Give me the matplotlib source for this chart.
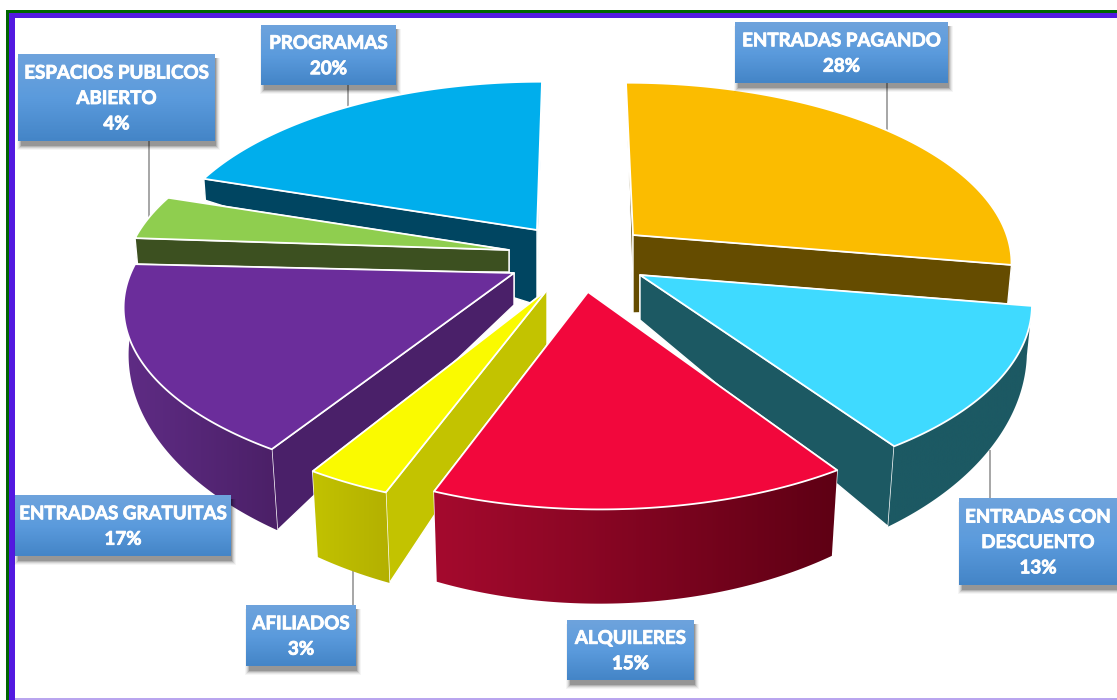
import numpy as np
import matplotlib
matplotlib.use('Agg')
import matplotlib.pyplot as plt
import matplotlib.patheffects as pe
from matplotlib.colors import LinearSegmentedColormap
from matplotlib.patches import Polygon, Rectangle

categories = ['ENTRADAS PAGANDO', 'ENTRADAS CON\nDESCUENTO', 'ALQUILERES', 'AFILIADOS',
              'ENTRADAS GRATUITAS', 'ESPACIOS PUBLICOS\nABIERTO', 'PROGRAMAS']
shares = [28, 13, 15, 3, 17, 4, 20]

# look of each slice, same order as categories
top_colors = ['#FBBC00', '#3FDAFF', '#F2073C', '#FAFA00', '#6B2D9B', '#8FCE4F', '#00AEEC']
wall_colors = ['#654C00', '#1C5963', '#5E0014', '#C3C300', '#4A2069', '#3C5020', '#004561']
far_wall_colors = ['#654C00', '#1C5963', '#5E0014', '#C3C300', '#4A2069', '#3C5020', '#1AA6DC']
rim_left = ['#654C00', '#1C5963', '#A50A2E', '#C2C200', '#5F2C85', '#3C5020', '#004561']
rim_right = ['#654C00', '#1C5963', '#5E0014', '#B3B000', '#4B2067', '#3C5020', '#004561']
explode = [(58, -23), (65, 17), (13, 34), (-28, 32), (-61, 15), (-66, -8), (-38, -28)]
rim_nudge = [(-7, -4), (28, -3), (12, 4), (9, 7), (1, 2), (6, -1), (5, 0)]
radius_scale = [0.985, 0.93, 0.975, 1.0, 1.0, 1.0, 0.975]
apex_drop = [78, 45, 50, 55, 32, 22, 75]
draw_order = [6, 0, 5, 4, 1, 3, 2]

boxes = [(735, 22, 948, 83), (959, 498, 1117, 585), (567, 620, 694, 680), (246, 605, 356, 666),
         (15, 495, 231, 556), (18, 54, 215, 141), (261, 25, 396, 85)]
leaders = [(887, 83, 140), (990, 450, 498), None, (353, 560, 605),
           None, (149, 141, 228), (348, 85, 115)]

cx, cy = 575, 258
rx, ry, persp = 385, 175, 0.18

fig = plt.figure(figsize=(11.17, 7), dpi=100)
ax = fig.add_axes([0, 0, 1, 1])
ax.set_xlim(0, 1117)
ax.set_ylim(700, 0)
ax.axis('off')

z = 1


def nextz():
    global z
    z += 1
    return z


def rim(theta, i):
    u, v = np.sin(theta), np.cos(theta)
    w = 1 + persp * v
    x = cx + explode[i][0] + rim_nudge[i][0] + radius_scale[i] * rx * u / w
    y = cy + explode[i][1] + rim_nudge[i][1] - ry * v / w
    return x, y


def drop(x, y):
    x, y = np.asarray(x), np.asarray(y)
    lean = 1 - 0.02 * np.clip((y - 100) / 370, 0, 1)
    return 570 + lean * (x - 570), 81 + 1.22 * (y - 81)


def gradient(verts, c0, c1):
    verts = np.array(verts)
    zz = nextz()
    patch = Polygon(verts, closed=True, fc='none', ec='none', zorder=zz)
    ax.add_patch(patch)
    cmap = LinearSegmentedColormap.from_list('g', [c0, c1])
    im = ax.imshow(np.linspace(0, 1, 256)[None, :], cmap=cmap, aspect='auto', zorder=zz,
                   extent=(verts[:, 0].min(), verts[:, 0].max(), verts[:, 1].max(), verts[:, 1].min()))
    im.set_clip_path(patch)


edges = np.cumsum([0] + shares) / sum(shares) * 2 * np.pi

for i in draw_order:
    apex = (cx + explode[i][0], cy + explode[i][1])
    apex_low = (apex[0], apex[1] + apex_drop[i])
    th = np.linspace(edges[i], edges[i + 1], 80)
    xs, ys = rim(th, i)
    xb, yb = drop(xs, ys)
    outer = list(zip(xs, ys)) + list(zip(xb[::-1], yb[::-1]))

    # slices turned away from the viewer show the rim behind their cut faces
    back_slice = np.cos(th.mean()) > 0
    if back_slice:
        gradient(outer, rim_left[i], rim_right[i])

    far, near = (0, -1) if np.cos(th[0]) > np.cos(th[-1]) else (-1, 0)
    for k, col in [(far, far_wall_colors[i]), (near, wall_colors[i])]:
        quad = [apex, (xs[k], ys[k]), (xb[k], yb[k]), apex_low]
        ax.add_patch(Polygon(quad, closed=True, fc=col, ec='white', lw=1.0,
                             joinstyle='round', zorder=nextz()))

    if not back_slice:
        gradient(outer, rim_left[i], rim_right[i])
    top = [apex] + list(zip(xs, ys))
    ax.add_patch(Polygon(top, closed=True, fc=top_colors[i], ec='white', lw=1.3,
                         joinstyle='round', zorder=nextz()))

# frame of the screenshot
ax.add_patch(Rectangle((6, 10), 1111, 3, fc='#006400', ec='none', zorder=200))
ax.add_patch(Rectangle((9, 13), 1108, 5, fc='#5319E0', ec='none', zorder=200))
ax.add_patch(Rectangle((6, 10), 3, 690, fc='#006400', ec='none', zorder=200))
ax.add_patch(Rectangle((9, 13), 6, 687, fc='#5319E0', ec='none', zorder=200))
ax.add_patch(Rectangle((15, 698), 1102, 2, fc='#B9A5EE', ec='none', zorder=200))

box_cmap = LinearSegmentedColormap.from_list('box', ['#6EA3DC', '#5B9BDD', '#4485C7'])
for name, share, box, lead in zip(categories, shares, boxes, leaders):
    x0, y0, x1, y1 = box
    if lead is not None:
        # leaders sit under the pie
        ax.plot([lead[0], lead[0]], [lead[1], lead[2]], color='#A6A6A6', lw=1.4,
                zorder=0.5, solid_capstyle='butt')
    for g, a in zip([5, 4, 3, 2, 1], [0.04, 0.06, 0.09, 0.13, 0.17]):
        ax.add_patch(Rectangle((x0 - g + 4, y0 + 4), x1 - x0 + 2 * g - 4, y1 - y0 + g,
                               fc='black', ec='none', alpha=a, zorder=210))
    ax.imshow(np.linspace(0, 1, 64)[:, None], cmap=box_cmap, aspect='auto', zorder=211,
              extent=(x0, x1, y1, y0))
    ax.text((x0 + x1) / 2, (y0 + y1) / 2 + 1, '%s\n%d%%' % (name, share), color='white',
            fontsize=13.5, fontweight='bold', family='Lato', ha='center', va='center',
            linespacing=1.6, zorder=212,
            path_effects=[pe.withStroke(linewidth=0.6, foreground='white')])
ax.set_xlim(0, 1117)
ax.set_ylim(700, 0)

fig.savefig('out.png', dpi=100, facecolor='white')
